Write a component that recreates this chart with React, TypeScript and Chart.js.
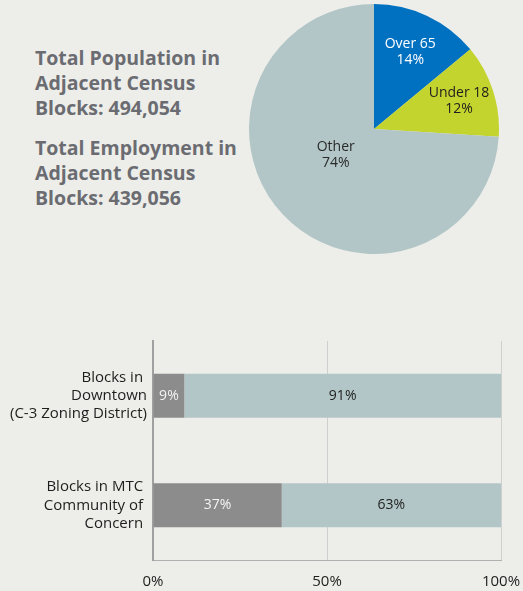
import React, { useEffect, useRef } from 'react';
import { Chart, registerables } from 'chart.js';

Chart.register(...registerables);

// ---- data ----
const pieLabels = ['Over 65', 'Under 18', 'Other'];
const pieValues = [14, 12, 74];
const pieValueLabels = ['14%', '12%', '74%'];

const barCategories = [
  ['Blocks in ', 'Downtown', '(C-3 Zoning District)'],
  ['Blocks in MTC ', 'Community of ', 'Concern '],
];
const barSeriesA = [9, 37];
const barSeriesB = [91, 63];
const barLabelsA = ['9%', '37%'];
const barLabelsB = ['91%', '63%'];
const xTickLabels = ['0%', '50%', '100%'];

const populationLines = ['Total Population in', 'Adjacent Census', 'Blocks: 494,054'];
const employmentLines = ['Total Employment in', 'Adjacent Census', 'Blocks: 439,056'];

// ---- styles ----
const FONT = "'Open Sans', 'Noto Sans', sans-serif";
const BG = '#edeee9';
const PIE_COLORS = ['#0070c0', '#c4d42e', '#b3c6c7'];
const PIE_TEXT = ['#ffffff', '#1e1e1e', '#2a2a2a'];
const PIE_LABEL_POS = [
  { r: 0.68, shift: 0 },
  { r: 0.715, shift: 0 },
  { r: 0.37, shift: 9 },
];

const pieLabelPlugin = {
  id: 'pieLabels',
  afterDatasetsDraw(chart: any) {
    const ctx = chart.ctx;
    const meta = chart.getDatasetMeta(0);
    meta.data.forEach((arc: any, i: number) => {
      const p = arc.getProps(['x', 'y', 'startAngle', 'endAngle', 'outerRadius'], true);
      const pos = PIE_LABEL_POS[i];
      const a = (p.startAngle + p.endAngle) / 2 + (pos.shift * Math.PI) / 180;
      const cx = p.x + Math.cos(a) * p.outerRadius * pos.r;
      const cy = p.y + Math.sin(a) * p.outerRadius * pos.r;
      ctx.save();
      ctx.fillStyle = PIE_TEXT[i];
      ctx.font = `14px ${FONT}`;
      ctx.textAlign = 'center';
      ctx.textBaseline = 'middle';
      ctx.fillText(pieLabels[i], cx, cy - 8);
      ctx.fillText(pieValueLabels[i], cx, cy + 8);
      ctx.restore();
    });
  },
};

const barLabelPlugin = {
  id: 'barLabels',
  afterDatasetsDraw(chart: any) {
    const ctx = chart.ctx;
    const sets = [
      { labels: barLabelsA, color: '#f4f4f4' },
      { labels: barLabelsB, color: '#1e1e1e' },
    ];
    sets.forEach((s, di) => {
      const meta = chart.getDatasetMeta(di);
      meta.data.forEach((bar: any, j: number) => {
        const p = bar.getProps(['x', 'y', 'base'], true);
        ctx.save();
        ctx.fillStyle = s.color;
        ctx.font = `14px ${FONT}`;
        ctx.textAlign = 'center';
        ctx.textBaseline = 'middle';
        ctx.fillText(s.labels[j], (p.x + p.base) / 2, p.y);
        ctx.restore();
      });
    });
  },
};

export default function App() {
  const pieRef = useRef<HTMLCanvasElement | null>(null);
  const barRef = useRef<HTMLCanvasElement | null>(null);

  useEffect(() => {
    const pie = new Chart(pieRef.current as HTMLCanvasElement, {
      type: 'pie',
      data: {
        labels: pieLabels,
        datasets: [
          {
            data: pieValues,
            backgroundColor: PIE_COLORS,
            borderWidth: 0,
          },
        ],
      },
      options: {
        responsive: false,
        animation: false,
        layout: { padding: 0 },
        plugins: { legend: { display: false }, tooltip: { enabled: false } },
      },
      plugins: [pieLabelPlugin],
    } as any);

    const bar = new Chart(barRef.current as HTMLCanvasElement, {
      type: 'bar',
      data: {
        labels: barCategories,
        datasets: [
          { data: barSeriesA, backgroundColor: '#8c8c8c', borderWidth: 0, barPercentage: 0.404, categoryPercentage: 1 },
          { data: barSeriesB, backgroundColor: '#b3c6c7', borderWidth: 0, barPercentage: 0.404, categoryPercentage: 1 },
        ],
      },
      options: {
        indexAxis: 'y',
        responsive: false,
        animation: false,
        layout: { padding: { top: 11, right: 22, left: 0, bottom: 0 } },
        plugins: { legend: { display: false }, tooltip: { enabled: false } },
        scales: {
          x: {
            stacked: true,
            min: 0,
            max: 100,
            ticks: {
              stepSize: 50,
              autoSkip: false,
              maxRotation: 0,
              color: '#1e1e1e',
              font: { size: 15, family: FONT },
              padding: 13,
              callback: (_v: any, i: number) => xTickLabels[i],
            },
            grid: {
              color: (c: any) => (c.tick && c.tick.value === 0 ? 'rgba(0,0,0,0)' : '#cfcfcf'),
              drawTicks: false,
              tickLength: 0,
              lineWidth: 1,
            },
            border: { color: '#b0b0b0', width: 1 },
            afterFit: (s: any) => {
              s.height = 31;
              s.paddingLeft = 0;
              s.paddingRight = 0;
            },
          },
          y: {
            stacked: true,
            ticks: {
              color: '#1e1e1e',
              font: { size: 15, family: FONT, lineHeight: 1.23 },
              padding: 6,
            },
            grid: { color: 'rgba(0,0,0,0)', drawTicks: false, tickLength: 0 },
            border: { color: '#a0a0a0', width: 2 },
            afterFit: (s: any) => {
              s.width = 153;
              s.paddingTop = 0;
              s.paddingBottom = 0;
            },
          },
        },
      },
      plugins: [barLabelPlugin],
    } as any);

    return () => {
      pie.destroy();
      bar.destroy();
    };
  }, []);

  const textStyle: React.CSSProperties = {
    position: 'absolute',
    left: 35,
    fontFamily: FONT,
    fontWeight: 700,
    fontSize: 19.5,
    lineHeight: '25px',
    color: '#6b6c72',
    whiteSpace: 'nowrap',
    margin: 0,
  };

  return (
    <div
      style={{
        position: 'fixed',
        left: 0,
        top: 0,
        width: 523,
        height: 591,
        background: BG,
        overflow: 'hidden',
      }}
    >
      <div style={{ ...textStyle, top: 45 }}>
        {populationLines.map((l, i) => (
          <div key={i}>{l}</div>
        ))}
      </div>
      <div style={{ ...textStyle, top: 135 }}>
        {employmentLines.map((l, i) => (
          <div key={i}>{l}</div>
        ))}
      </div>
      <canvas
        ref={pieRef}
        width={250}
        height={250}
        style={{ position: 'absolute', left: 249, top: 4, width: 250, height: 250 }}
      />
      <canvas
        ref={barRef}
        width={523}
        height={261}
        style={{ position: 'absolute', left: 0, top: 330, width: 523, height: 261 }}
      />
    </div>
  );
}
